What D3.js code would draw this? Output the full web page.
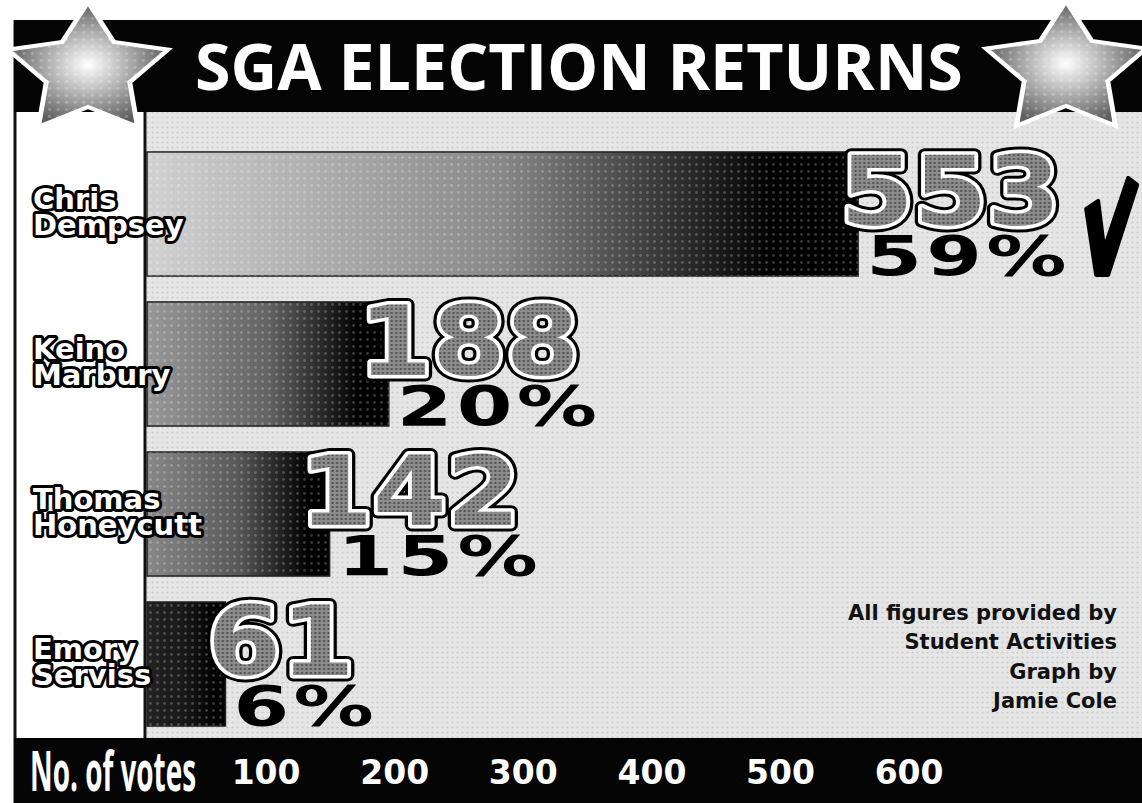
<!DOCTYPE html>
<html>
<head>
	<script src="https://d3js.org/d3.v7.min.js"></script>
	<style>
		body { margin: 0; background: #fff; }
		svg { display: block; }
	</style>
</head>
<body>
	<div class="chart"></div>
	<script>
		var candidates = ["Chris Dempsey", "Keino Marbury", "Thomas Honeycutt", "Emory Serviss"];
		var votes = [553, 188, 142, 61];
		var percents = [59, 20, 15, 6];
		var tickValues = [100, 200, 300, 400, 500, 600];
		var winner = "Chris Dempsey";
		var title = "SGA ELECTION RETURNS";
		var axisTitle = "No. of votes";
		var credits = ["All figures provided by", "Student Activities", "Graph by", "Jamie Cole"];

		var w = 1142, h = 803;
		var left = 147, headTop = 20, headBottom = 112, footTop = 738;
		var boldFont = "'DejaVu Sans', sans-serif";

		var rows = candidates.map(function(c, i) {
			return {name: c, votes: votes[i], pct: percents[i]};
		});

		var svg = d3.select(".chart")
			.append("svg")
			.attr("width", w)
			.attr("height", h);

		var x = d3.scaleLinear().domain([0, 600]).range([left, left + 771.6]);
		var y = d3.scaleBand().domain(candidates).range([126, 752]).padding(0.173);
		// lighter start colour for the longer bars, like the print
		var startShade = d3.scaleLinear().domain([50, 150, 600]).range(["#151515", "#929292", "#d8d8d8"]);

		var defs = svg.append("defs");

		var paper = defs.append("pattern").attr("id", "paper")
			.attr("patternUnits", "userSpaceOnUse").attr("width", 5).attr("height", 5);
		paper.append("rect").attr("width", 5).attr("height", 5).attr("fill", "#e6e6e6");
		paper.append("circle").attr("cx", 2.5).attr("cy", 2.5).attr("r", 1.1).attr("fill", "#cdcdcd");

		var dots = defs.append("pattern").attr("id", "dots")
			.attr("patternUnits", "userSpaceOnUse").attr("width", 7).attr("height", 7);
		dots.append("circle").attr("cx", 3.5).attr("cy", 3.5).attr("r", 1.4).attr("fill", "#fff").attr("fill-opacity", 0.22);

		var numFill = defs.append("pattern").attr("id", "numFill")
			.attr("patternUnits", "userSpaceOnUse").attr("width", 4).attr("height", 4);
		numFill.append("rect").attr("width", 4).attr("height", 4).attr("fill", "#8c8c8c");
		numFill.append("circle").attr("cx", 2).attr("cy", 2).attr("r", 1.1).attr("fill", "#4a4a4a");

		var starGrad = defs.append("radialGradient").attr("id", "starGrad");
		starGrad.append("stop").attr("offset", "0%").attr("stop-color", "#ffffff");
		starGrad.append("stop").attr("offset", "40%").attr("stop-color", "#c0c0c0");
		starGrad.append("stop").attr("offset", "100%").attr("stop-color", "#5e5e5e");

		rows.forEach(function(d, i) {
			var s = startShade(d.votes);
			var g = defs.append("linearGradient").attr("id", "barGrad" + i);
			g.append("stop").attr("offset", "0%").attr("stop-color", s);
			g.append("stop").attr("offset", "50%").attr("stop-color", d3.interpolateRgb(s, "#000")(0.35));
			g.append("stop").attr("offset", "88%").attr("stop-color", "#000");
			g.append("stop").attr("offset", "100%").attr("stop-color", "#000");
		});

		// page frame
		svg.append("rect")
			.attr("x", left).attr("y", headBottom)
			.attr("width", w - left).attr("height", footTop - headBottom)
			.attr("fill", "url(#paper)");
		svg.append("rect")
			.attr("x", 15).attr("y", headBottom)
			.attr("width", left - 15).attr("height", footTop - headBottom)
			.attr("fill", "#fff");
		svg.append("path")
			.attr("d", "M15 " + headTop + " L15 " + h)
			.attr("stroke", "#111").attr("stroke-width", 3);
		svg.append("path")
			.attr("d", "M" + (left - 2) + " " + headBottom + " L" + (left - 2) + " " + footTop)
			.attr("stroke", "#111").attr("stroke-width", 3);
		svg.append("rect")
			.attr("x", 14).attr("y", headTop)
			.attr("width", w - 14).attr("height", headBottom - headTop)
			.attr("fill", "#050505");
		svg.append("rect")
			.attr("x", 14).attr("y", footTop)
			.attr("width", w - 14).attr("height", h - footTop)
			.attr("fill", "#050505");

		// bars
		var bars = svg.append("g").attr("class", "bars");
		bars.selectAll("rect.bar")
			.data(rows)
			.enter()
			.append("rect")
			.attr("class", "bar")
			.attr("x", x(0))
			.attr("y", function(d) { return y(d.name); })
			.attr("width", function(d) { return x(d.votes) - x(0); })
			.attr("height", y.bandwidth())
			.attr("fill", function(d, i) { return "url(#barGrad" + i + ")"; })
			.attr("stroke", "#222")
			.attr("stroke-width", 1.5);
		bars.selectAll("rect.dots")
			.data(rows)
			.enter()
			.append("rect")
			.attr("class", "dots")
			.attr("x", x(0))
			.attr("y", function(d) { return y(d.name); })
			.attr("width", function(d) { return x(d.votes) - x(0); })
			.attr("height", y.bandwidth())
			.attr("fill", "url(#dots)");

		// candidate names
		var names = svg.append("g").attr("class", "names");
		names.selectAll("text")
			.data(rows)
			.enter()
			.append("text")
			.attr("x", 33)
			.attr("y", function(d) { return y(d.name) + y.bandwidth() / 2 - 5; })
			.attr("font-family", boldFont)
			.attr("font-weight", "bold")
			.attr("font-size", 29)
			.attr("fill", "#fff")
			.attr("stroke", "#000")
			.attr("stroke-width", 6)
			.attr("stroke-linejoin", "round")
			.attr("paint-order", "stroke")
			.each(function(d) {
				var parts = d.name.split(" ");
				var t = d3.select(this);
				parts.forEach(function(p, k) {
					t.append("tspan").attr("x", 33).attr("dy", k === 0 ? 0 : 26).text(p);
				});
			});

		// big vote counts
		var counts = svg.append("g").attr("class", "counts");
		[{stroke: "#000", width: 13, fill: "#000"}, {stroke: "#fff", width: 7, fill: "url(#numFill)"}].forEach(function(layer) {
			counts.append("g").selectAll("text")
				.data(rows)
				.enter()
				.append("text")
				.attr("transform", function(d) {
					var shift = String(d.votes).charAt(0) === "1" ? -30 : -18;
					return "translate(" + (x(d.votes) + shift) + "," + (y(d.name) + 73) + ") scale(1.1,1)";
				})
				.attr("font-family", boldFont)
				.attr("font-weight", "bold")
				.attr("font-size", 96)
				.attr("fill", layer.fill)
				.attr("stroke", layer.stroke)
				.attr("stroke-width", layer.width)
				.attr("stroke-linejoin", "round")
				.attr("paint-order", "stroke")
				.text(function(d) { return d.votes; });
		});

		// percentages
		svg.append("g").attr("class", "pcts")
			.selectAll("text")
			.data(rows)
			.enter()
			.append("text")
			.attr("transform", function(d) {
				return "translate(" + (x(d.votes) + 8) + "," + (y(d.name) + y.bandwidth() - 1) + ") scale(1.43,1)";
			})
			.attr("font-family", boldFont)
			.attr("font-weight", "bold")
			.attr("font-size", 56)
			.attr("letter-spacing", 3)
			.attr("fill", "#000")
			.text(function(d) { return d.pct + "%"; });

		// check mark beside the winner
		var win = rows.filter(function(d) { return d.name === winner; })[0];
		svg.append("path")
			.attr("transform", "translate(" + (x(win.votes) + 228) + "," + y(win.name) + ")")
			.attr("d", "M0 57 L12 49 L18 97 L42 26 L51 33 L22 123 L10 123 Z")
			.attr("fill", "#000")
			.attr("stroke", "#000")
			.attr("stroke-width", 4)
			.attr("stroke-linejoin", "round");

		// stars
		var starPts = d3.range(10).map(function(k) {
			return [k * Math.PI / 5, k % 2 === 0 ? 69 : 36];
		});
		var star = d3.lineRadial().curve(d3.curveLinearClosed)(starPts);
		var starAt = [[88, 71], [1066, 70]];
		svg.selectAll("path.star")
			.data(starAt)
			.enter()
			.append("path")
			.attr("class", "star")
			.attr("transform", function(d) { return "translate(" + d[0] + "," + d[1] + ") scale(1.22,1)"; })
			.attr("d", star)
			.attr("fill", "url(#starGrad)")
			.attr("stroke", "#fff")
			.attr("stroke-width", 4)
			.attr("stroke-linejoin", "miter");
		svg.selectAll("path.stardots")
			.data(starAt)
			.enter()
			.append("path")
			.attr("class", "stardots")
			.attr("transform", function(d) { return "translate(" + d[0] + "," + d[1] + ") scale(1.22,1)"; })
			.attr("d", star)
			.attr("fill", "url(#dots)");

		// title
		svg.append("text")
			.attr("x", 195)
			.attr("y", 90)
			.attr("font-family", "'Open Sans', sans-serif")
			.attr("font-weight", "bold")
			.attr("font-size", 64.5)
			.attr("fill", "#fff")
			.text(title);

		// axis along the bottom band
		var axis = svg.append("g")
			.attr("class", "axis")
			.attr("transform", "translate(-10,784)")
			.call(d3.axisBottom(x).tickValues(tickValues).tickSize(0).tickPadding(0));
		axis.select(".domain").remove();
		axis.selectAll("text")
			.attr("dy", 0)
			.attr("y", 0)
			.attr("fill", "#fff")
			.attr("font-family", boldFont)
			.attr("font-weight", "bold")
			.attr("font-size", 33);

		svg.append("text")
			.attr("x", 30)
			.attr("y", 791)
			.attr("font-family", "'Open Sans', sans-serif")
			.attr("font-weight", "bold")
			.attr("font-size", 56)
			.attr("textLength", 166)
			.attr("lengthAdjust", "spacingAndGlyphs")
			.attr("fill", "#fff")
			.text(axisTitle);

		// credits
		svg.append("g").attr("class", "credits")
			.selectAll("text")
			.data(credits)
			.enter()
			.append("text")
			.attr("x", w - 25)
			.attr("y", function(d, i) { return 620 + i * 29.3; })
			.attr("text-anchor", "end")
			.attr("font-family", boldFont)
			.attr("font-weight", "bold")
			.attr("font-size", 21)
			.attr("fill", "#111")
			.text(function(d) { return d; });
	</script>
</body>
</html>
